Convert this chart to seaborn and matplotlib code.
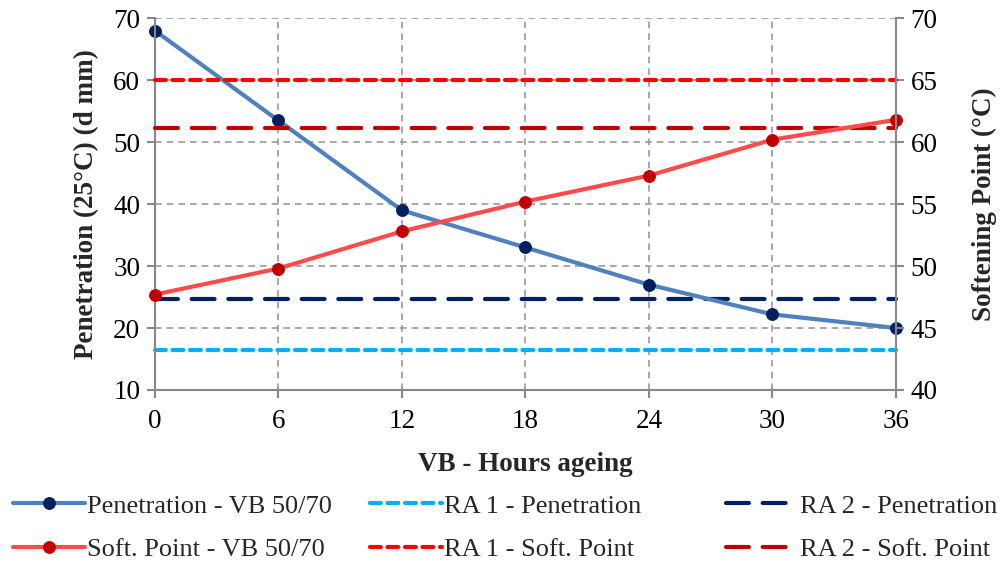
import matplotlib
matplotlib.use("Agg")
import matplotlib.pyplot as plt
import seaborn as sns
import pandas as pd
import numpy as np

hours = [0, 6, 12, 18, 24, 30, 36]
penetration = [68.0, 53.5, 39.0, 33.0, 27.0, 22.2, 20.0]
soft_point = [47.7, 49.8, 52.8, 55.2, 57.3, 60.2, 61.8]
ra1_pen = 16.5
ra2_pen = 24.7
ra1_soft = 65.0
ra2_soft = 61.1

sns.set_theme(style="white")
plt.rcParams['font.family'] = ['Liberation Serif', 'DejaVu Serif']

fig = plt.figure(figsize=(10.05, 5.68), dpi=100)
ax = fig.add_axes([0.154, 0.3134, 0.7375, 0.6546])
ax2 = ax.twinx()

df = pd.DataFrame({"hours": hours, "pen": penetration, "soft": soft_point,
                   "ra1p": [ra1_pen]*len(hours), "ra2p": [ra2_pen]*len(hours),
                   "ra1s": [ra1_soft]*len(hours), "ra2s": [ra2_soft]*len(hours)})

lw = 3.0
sns.lineplot(data=df, x="hours", y="ra1p", ax=ax, color="#00B0F0", lw=lw,
             label="RA 1 - Penetration", legend=False)
sns.lineplot(data=df, x="hours", y="ra2p", ax=ax, color="#002060", lw=lw,
             label="RA 2 - Penetration", legend=False)
sns.lineplot(data=df, x="hours", y="pen", ax=ax, color="#4F81BD", lw=lw,
             marker="o", markersize=8.5, markerfacecolor="#002060",
             markeredgecolor="#002060", label="Penetration - VB 50/70", legend=False)
sns.lineplot(data=df, x="hours", y="ra1s", ax=ax2, color="#FF0000", lw=lw,
             label="RA 1 - Soft. Point", legend=False)
sns.lineplot(data=df, x="hours", y="ra2s", ax=ax2, color="#C00000", lw=lw,
             label="RA 2 - Soft. Point", legend=False)
sns.lineplot(data=df, x="hours", y="soft", ax=ax2, color="#FF4B4B", lw=lw,
             marker="o", markersize=8.5, markerfacecolor="#C00000",
             markeredgecolor="#C00000", label="Soft. Point - VB 50/70", legend=False)

short = (2.6, 1.6)
long_ = (5.5, 3.3)
lines1 = ax.get_lines()
lines2 = ax2.get_lines()
lines1[0].set_dashes(short); lines1[0].set_dash_capstyle("round")
lines1[1].set_dashes(long_); lines1[1].set_dash_capstyle("round")
lines2[0].set_dashes(short); lines2[0].set_dash_capstyle("round")
lines2[1].set_dashes(long_); lines2[1].set_dash_capstyle("round")
for l in list(lines1) + list(lines2):
    l.set_solid_capstyle("round")
    l.set_clip_on(False)

ax.set_xlim(0, 36)
ax.set_ylim(10, 70)
ax2.set_ylim(40, 70)
ax.set_xticks(hours)
ax.set_yticks(np.arange(10, 71, 10))
ax2.set_yticks(np.arange(40, 71, 5))

ax.grid(True, color="#999999", linestyle=(0, (4, 3)), linewidth=1.2)
ax.set_axisbelow(True)
ax2.grid(False)

for a in (ax, ax2):
    for s in a.spines.values():
        s.set_visible(False)
ax.spines["left"].set_visible(True)
ax.spines["bottom"].set_visible(True)
ax2.spines["right"].set_visible(True)
for s in (ax.spines["left"], ax.spines["bottom"], ax2.spines["right"]):
    s.set_color("#888888"); s.set_linewidth(1.5)

fs = 19.5
ax.tick_params(axis="both", labelsize=fs, length=5.5, color="#888888", width=1.5,
               direction="out", left=True, bottom=True, labelcolor="black")
ax.tick_params(axis="y", pad=5)
ax.tick_params(axis="x", pad=8)
ax2.tick_params(axis="y", labelsize=fs, length=5.5, color="#888888", width=1.5,
                direction="out", right=True, pad=5, labelcolor="black")

ax.set_xlabel("VB - Hours ageing", fontsize=fs, fontweight="bold", labelpad=13)
ax.set_ylabel("Penetration (25°C) (d mm)", fontsize=fs, fontweight="bold", labelpad=10)
ax2.set_ylabel("Softening Point (°C)", fontsize=fs, fontweight="bold", labelpad=25)

lfs = 19
cols = [
    ([lines1[2], lines2[2]], 13),
    ([lines1[0], lines2[0]], 370),
    ([lines1[1], lines2[1]], 726),
]
W, H = 1005.0, 568.0
for handles, xpx in cols:
    leg = fig.legend(handles, [h.get_label() for h in handles],
                     loc="center left", bbox_to_anchor=(xpx / W, 1 - 527.5 / H),
                     frameon=False, fontsize=lfs, handlelength=2.72,
                     handletextpad=0.1, labelspacing=0.75, borderpad=0,
                     borderaxespad=0)

fig.savefig("out.png", dpi=100)
